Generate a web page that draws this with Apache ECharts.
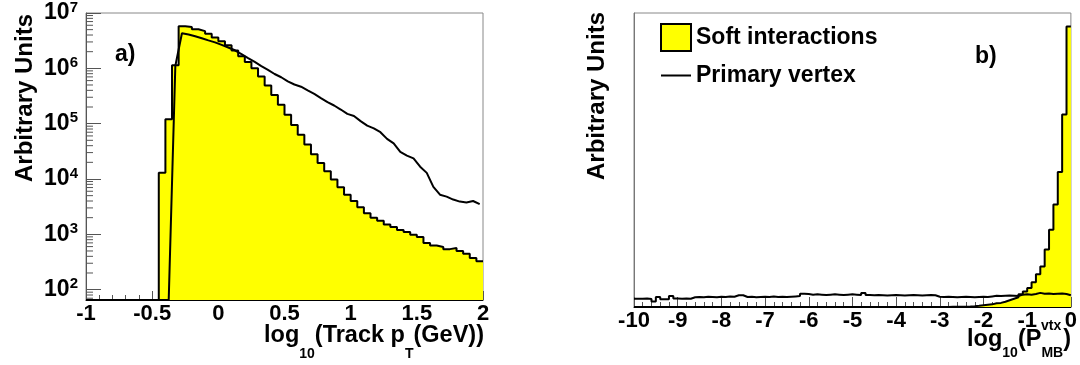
<!DOCTYPE html>
<html>
<head>
<meta charset="utf-8">
<script src="https://cdn.jsdelivr.net/npm/echarts@6/dist/echarts.min.js"></script>
<style>
  html, body { margin: 0; padding: 0; background: #fff; }
  #chart { width: 1080px; height: 365px; }
</style>
</head>
<body>
<div id="chart"></div>
<script>
// ---------------- data ----------------
// Panel a) : log10(track pT) histogram, 60 bins of width 0.05 from -1 to 2
const ptBinStart = -1;
const ptBinWidth = 0.05;
const ptTickLabels = ['-1', '-0.5', '0', '0.5', '1', '1.5', '2'];
const softPt = [0, 0, 0, 0, 0, 0, 0, 0, 0, 0, 0,
  1.3e4, 1.2e5, 1.14e6, 5.75e6, 5.6e6, 5.1e6, 4.7e6, 4.2e6, 3.6e6,
  3.1e6, 2.6e6, 2.1e6, 1.65e6, 1.3e6, 1.0e6, 7.1e5, 4.9e5, 3.3e5, 2.2e5,
  1.45e5, 9.5e4, 6.3e4, 4.2e4, 2.8e4, 1.95e4, 1.38e4, 9.8e3, 7.1e3, 5.2e3,
  4.0e3, 3.1e3, 2.4e3, 2.0e3, 1.75e3, 1.5e3, 1.35e3, 1.2e3, 1.1e3, 980,
  890, 700, 630, 590, 540, 565, 500, 445, 375, 325];
const vertexPt = [0, 0, 0, 0, 0, 0, 0, 0, 0, 0, 0, 0, 0,
  1.1e6, 4.3e6, 4.1e6, 3.8e6, 3.5e6, 3.2e6, 2.95e6,
  2.66e6, 2.38e6, 2.12e6, 1.81e6, 1.53e6, 1.31e6, 1.1e6, 9.4e5, 7.9e5, 6.9e5,
  5.8e5, 5.1e5, 4.65e5, 4.0e5, 3.45e5, 2.9e5, 2.45e5, 2.13e5, 1.8e5, 1.5e5,
  1.38e5, 1.11e5, 9.2e4, 8.2e4, 7.0e4, 5.3e4, 4.4e4, 3.1e4, 2.65e4, 2.36e4,
  1.67e4, 1.29e4, 7.2e3, 5.2e3, 4.8e3, 4.25e3, 3.9e3, 3.77e3, 4.0e3, 3.5e3];

// Panel b) : log10(P_MB^vtx) histogram, 100 bins of width 0.1 from -10 to 0
const pBinStart = -10;
const pBinWidth = 0.1;
const pTickLabels = ['-10', '-9', '-8', '-7', '-6', '-5', '-4', '-3', '-2', '-1', '0'];
const softP = [
  0, 0, 0, 0, 0, 0, 0, 0, 0, 0,
  0, 0, 0, 0, 0, 0, 0, 0, 0, 0,
  0, 0, 0, 0, 0, 0, 0, 0, 0, 0,
  0, 0, 0, 0, 0, 0, 0, 0, 0, 0,
  0, 0, 0, 0, 0, 0, 0, 0, 0, 0,
  0, 0, 0, 0, 0, 0, 0, 0, 0, 0,
  0, 0, 0, 0, 0, 0, 0, 0, 0, 0,
  0.3, 0.3, 0.5, 0.7, 1, 1, 1.7, 2.5, 4, 6,
  7.5, 9, 12.5, 14, 18, 23, 28, 33, 43, 53,
  65, 84, 111, 138, 196, 263, 349, 459, 655, 954];
const vertexP = [
  28, 28, 29, 27, 19, 34, 26, 26, 37, 29,
  28, 29, 28, 33, 34, 33, 35, 34, 33, 35,
  34, 36, 35, 40, 40, 34, 35, 33, 34, 35,
  34, 36, 34, 35, 34, 35, 36, 37, 45, 44,
  42, 43, 42, 41, 42, 43, 42, 41, 42, 43,
  42, 41, 48, 41, 40, 41, 40, 39, 40, 41,
  40, 39, 40, 41, 40, 39, 40, 41, 40, 35,
  34, 35, 34, 33, 34, 35, 34, 33, 34, 35,
  34, 36, 38, 37, 38, 39, 38, 37, 42, 43,
  42, 44, 48, 45, 46, 44, 45, 46, 44, 40];

// ---------------- helpers ----------------
const FONT = "'Liberation Sans', Arial, Helvetica, sans-serif";
const Y_MIN_A = 65, Y_MAX_A = 1e7;

function r4(x) { return Math.round(x * 10000) / 10000; }
// histogram drawn as a step line: one point per bin edge
function stepData(start, width, vals, floor) {
  const pts = [];
  for (let i = 0; i <= vals.length; i++) {
    const v = vals[Math.min(i, vals.length - 1)];
    pts.push([r4(start + i * width), Math.max(v, floor)]);
  }
  return pts;
}
// histogram drawn as a polyline through bin centres
function centerData(start, width, vals, floor) {
  return vals.map((v, i) => [r4(start + (i + 0.5) * width), Math.max(v, floor)]);
}
const minorTicksA = [];
for (let n = 1; n <= 6; n++) {
  for (let k = 2; k <= 9; k++) {
    const v = k * Math.pow(10, n);
    if (v >= Y_MIN_A && v < Y_MAX_A) minorTicksA.push(v);
  }
}

const tickLabelStyle = { fontSize: 22, fontWeight: 'bold', color: '#000', fontFamily: FONT };
const mainTok = (padTop) => ({ fontSize: 23.5, fontWeight: 'bold', fontFamily: FONT, fill: '#000', lineHeight: 23, padding: [padTop, 0, 0, 0], verticalAlign: 'top' });
const subTok = (padTop) => ({ fontSize: 14, fontWeight: 'bold', fontFamily: FONT, fill: '#000', lineHeight: 14, padding: [padTop, 0, 0, 0], verticalAlign: 'top' });

const chart = echarts.init(document.getElementById('chart'), null, { renderer: 'canvas' });

const option = {
  animation: false,
  backgroundColor: '#fff',
  grid: [
    { left: 86, top: 13, width: 397, height: 287, show: true, borderColor: '#888', borderWidth: 1 },
    { left: 634, top: 13, width: 438, height: 294, show: true, borderColor: '#888', borderWidth: 1 }
  ],
  legend: {
    orient: 'vertical',
    left: 655, top: 18,
    itemWidth: 30, itemHeight: 27, itemGap: 12,
    selectedMode: false,
    textStyle: { fontSize: 23, fontWeight: 'bold', color: '#000', fontFamily: FONT },
    data: [
      { name: 'Soft interactions', icon: 'rect',
        itemStyle: { color: '#ffff00', borderColor: '#000', borderWidth: 2 } },
      { name: 'Primary vertex', icon: 'path://M0,0 L30,0 L30,2 L0,2 Z',
        itemStyle: { color: '#000', borderWidth: 0 } }
    ]
  },
  xAxis: [
    {
      gridIndex: 0, type: 'value', min: -1, max: 2, interval: 0.5,
      axisLine: { show: true, onZero: false, lineStyle: { color: '#000', width: 1 } },
      axisTick: { show: true, inside: true, length: 9, lineStyle: { color: '#555' } },
      minorTick: { show: true, splitNumber: 5, length: 5, lineStyle: { color: '#555' } },
      splitLine: { show: false },
      axisLabel: Object.assign({ margin: 3,
        formatter: (v) => ptTickLabels.find(t => Math.abs(parseFloat(t) - v) < 1e-6) || '' }, tickLabelStyle)
    },
    {
      gridIndex: 1, type: 'value', min: -10, max: 0, interval: 1,
      axisLine: { show: true, onZero: false, lineStyle: { color: '#000', width: 1 } },
      axisTick: { show: true, inside: true, length: 10, lineStyle: { color: '#555' } },
      minorTick: { show: true, splitNumber: 5, length: 5, lineStyle: { color: '#555' } },
      splitLine: { show: false },
      axisLabel: Object.assign({ margin: 3,
        formatter: (v) => pTickLabels.find(t => Math.abs(parseFloat(t) - v) < 1e-6) || '' }, tickLabelStyle)
    }
  ],
  yAxis: [
    {
      gridIndex: 0, type: 'log', logBase: 10, min: Y_MIN_A, max: Y_MAX_A,
      axisLine: { show: true, onZero: false, lineStyle: { color: '#555', width: 1 } },
      axisTick: { show: true, inside: true, length: 15, lineStyle: { color: '#555' } },
      splitLine: { show: false },
      axisLabel: {
        margin: 8,
        formatter: function (v) {
          const e = Math.round(Math.log10(v));
          if (Math.abs(Math.pow(10, e) - v) / v > 1e-6) return '';
          return '{b|10}{s|' + e + '}';
        },
        rich: {
          b: { fontSize: 23, fontWeight: 'bold', color: '#000', fontFamily: FONT, lineHeight: 26 },
          s: { fontSize: 15, fontWeight: 'bold', color: '#000', fontFamily: FONT, lineHeight: 15, verticalAlign: 'top' }
        }
      }
    },
    {
      gridIndex: 1, type: 'value', min: 0, max: 1000,
      axisLine: { show: true, onZero: false, lineStyle: { color: '#777', width: 1 } },
      axisTick: { show: false },
      axisLabel: { show: false },
      splitLine: { show: false }
    }
  ],
  series: [
    {
      name: 'Soft interactions', type: 'line', xAxisIndex: 0, yAxisIndex: 0,
      step: 'end', symbol: 'none', showSymbol: false, silent: true, clip: true,
      data: stepData(ptBinStart, ptBinWidth, softPt, Y_MIN_A),
      lineStyle: { color: '#000', width: 2 },
      itemStyle: { color: '#ffff00' },
      areaStyle: { color: '#ffff00', opacity: 1, origin: 'start' },
      z: 2
    },
    {
      name: 'Primary vertex', type: 'line', xAxisIndex: 0, yAxisIndex: 0,
      symbol: 'none', showSymbol: false, silent: true, clip: true,
      data: centerData(ptBinStart, ptBinWidth, vertexPt, Y_MIN_A),
      lineStyle: { color: '#000', width: 2 },
      itemStyle: { color: '#000' },
      z: 3
    },
    {
      type: 'custom', xAxisIndex: 0, yAxisIndex: 0, silent: true, z: 4,
      data: minorTicksA.map(v => [-1, v]),
      renderItem: function (params, api) {
        const p = api.coord([api.value(0), api.value(1)]);
        return { type: 'line', shape: { x1: p[0], y1: p[1], x2: p[0] + 7, y2: p[1] },
                 style: { stroke: '#555', lineWidth: 1 } };
      }
    },
    {
      name: 'Soft interactions', type: 'line', xAxisIndex: 1, yAxisIndex: 1,
      step: 'end', symbol: 'none', showSymbol: false, silent: true, clip: true,
      data: stepData(pBinStart, pBinWidth, softP, 0),
      lineStyle: { color: '#000', width: 2 },
      itemStyle: { color: '#ffff00' },
      areaStyle: { color: '#ffff00', opacity: 1, origin: 'start' },
      z: 2
    },
    {
      name: 'Primary vertex', type: 'line', xAxisIndex: 1, yAxisIndex: 1,
      step: 'end', symbol: 'none', showSymbol: false, silent: true, clip: true,
      data: stepData(pBinStart, pBinWidth, vertexP, 0),
      lineStyle: { color: '#000', width: 2 },
      itemStyle: { color: '#000' },
      z: 3
    }
  ],
  graphic: [
    { type: 'text', x: 115, y: 55,
      style: { text: 'a)', fontSize: 23, fontWeight: 'bold', fontFamily: FONT, fill: '#000',
               verticalAlign: 'middle', textVerticalAlign: 'middle' } },
    { type: 'text', x: 975, y: 57,
      style: { text: 'b)', fontSize: 23, fontWeight: 'bold', fontFamily: FONT, fill: '#000',
               verticalAlign: 'middle', textVerticalAlign: 'middle' } },
    { type: 'text', x: 25, y: 14, rotation: Math.PI / 2,
      style: { text: 'Arbitrary Units', fontSize: 24, fontWeight: 'bold', fontFamily: FONT, fill: '#000',
               align: 'right', textAlign: 'right', verticalAlign: 'middle', textVerticalAlign: 'middle' } },
    { type: 'text', x: 597, y: 12, rotation: Math.PI / 2,
      style: { text: 'Arbitrary Units', fontSize: 24, fontWeight: 'bold', fontFamily: FONT, fill: '#000',
               align: 'right', textAlign: 'right', verticalAlign: 'middle', textVerticalAlign: 'middle' } },
    { type: 'text', x: 484, y: 319,
      style: {
        text: '{m|log}{s|10}{m|(Track p}{s|T}{m|(GeV))}',
        align: 'right', textAlign: 'right', verticalAlign: 'top', textVerticalAlign: 'top',
        fill: '#000',
        rich: { m: mainTok(5), s: subTok(28) }
      } },
    { type: 'text', x: 1071, y: 318,
      style: {
        text: '{m|log}{s|10}{m|(P}{s|MB}{m|)}',
        align: 'right', textAlign: 'right', verticalAlign: 'top', textVerticalAlign: 'top',
        fill: '#000',
        rich: { m: mainTok(10), s: subTok(28) }
      } },
    { type: 'text', x: 1041, y: 326,
      style: { text: 'vtx', fontSize: 14, fontWeight: 'bold', fontFamily: FONT, fill: '#000',
               align: 'left', textAlign: 'left', verticalAlign: 'middle', textVerticalAlign: 'middle' } }
  ]
};
chart.setOption(option);
</script>
</body>
</html>
